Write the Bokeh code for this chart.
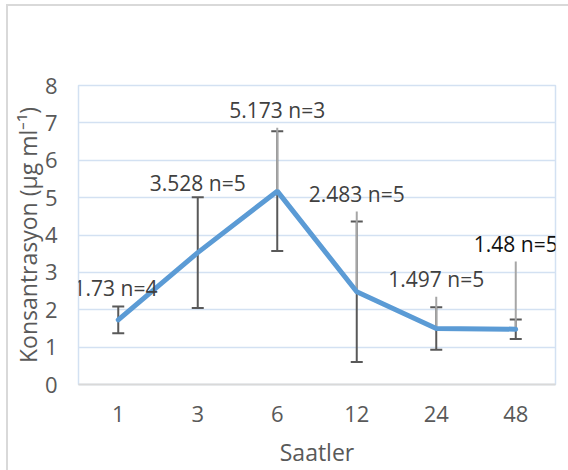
from bokeh.plotting import figure
from bokeh.models import ColumnDataSource, Whisker, TeeHead, FixedTicker, LabelSet
from bokeh.core.properties import value
from bokeh.embed import file_html
from bokeh.resources import INLINE

# ---- data ----
hours = ["1", "3", "6", "12", "24", "48"]
conc = [1.73, 3.528, 5.173, 2.483, 1.497, 1.48]
n_obs = [4, 5, 3, 5, 5, 5]
err = [0.36, 1.48, 1.6, 1.88, 0.57, 0.26]
labels = ["1.73  n=4", "3.528 n=5", "5.173 n=3", "2.483 n=5", "1.497 n=5", "1.48 n=5"]

# ---- label layout (data units) ----
label_y = [2.57, 5.40, 7.35, 5.11, 2.83, 3.77]
has_leader = [False, False, True, True, True, True]
label_colors = ["#404040", "#404040", "#404040", "#404040", "#404040", "#111111"]

FONT = "Open Sans"

src = ColumnDataSource(dict(
    x=hours, y=conc,
    upper=[c + e for c, e in zip(conc, err)],
    lower=[c - e for c, e in zip(conc, err)],
    ly=label_y, lab=labels, lc=label_colors,
))
lead = ColumnDataSource(dict(
    x=[h for h, f in zip(hours, has_leader) if f],
    y0=[ly - 0.48 for ly, f in zip(label_y, has_leader) if f],
    y1=[c for c, f in zip(conc, has_leader) if f],
))

p = figure(x_range=hours, y_range=(0, 8), width=568, height=470,
           output_backend="svg", toolbar_location=None,
           min_border_left=78, min_border_right=13, min_border_top=85, min_border_bottom=86)
p.background_fill_color = "white"
p.border_fill_color = None
# outer chart border (left/top edge) drawn as inset shadows on the host element
p.styles = {"box-shadow": "inset 6px 4px 0 0 #ffffff, inset 8px 6px 0 0 #d9d9d9",
            "background-color": "#ffffff"}
p.outline_line_color = "#d3e1f2"
p.outline_line_width = 1.5

# grid
p.xgrid.grid_line_color = None
p.ygrid.grid_line_color = "#d3e1f2"
p.ygrid.grid_line_width = 1.5
p.yaxis.ticker = FixedTicker(ticks=list(range(0, 9)))

# axes
for ax in (p.xaxis[0], p.yaxis[0]):
    ax.major_tick_line_color = None
    ax.minor_tick_line_color = None
    ax.major_tick_out = 0
    ax.major_tick_in = 0
    ax.major_label_text_font = FONT
    ax.major_label_text_font_size = "22px"
    ax.major_label_text_color = "#595959"
    ax.axis_label_text_font = FONT
    ax.axis_label_text_font_size = "23px"
    ax.axis_label_text_font_style = "normal"
    ax.axis_label_text_color = "#595959"

p.yaxis.axis_line_color = None
p.yaxis.major_label_standoff = 21
p.yaxis.axis_label = "Konsantrasyon (µg ml⁻¹)"
p.yaxis.axis_label_standoff = -2

p.xaxis.axis_line_color = "#d9d9d9"
p.xaxis.axis_line_width = 2
p.xaxis.major_label_standoff = 21
p.xaxis.axis_label = "Saatler"
p.xaxis.axis_label_standoff = 11

# error bars
wh = Whisker(base="x", upper="upper", lower="lower", source=src,
             line_color="#595959", line_width=2,
             upper_head=TeeHead(size=12, line_color="#595959", line_width=2),
             lower_head=TeeHead(size=12, line_color="#595959", line_width=2))
p.add_layout(wh)

# leader lines
p.segment(x0="x", y0="y0", x1="x", y1="y1", source=lead,
          line_color="#a6a6a6", line_width=2)

# main line
p.line("x", "y", source=src, line_color="#5b9bd5", line_width=5, line_cap="round")

# data labels
p.add_layout(LabelSet(x="x", y="ly", text="lab", source=src, text_color="lc",
                      text_font=value(FONT), text_font_size="21px",
                      text_align="center", text_baseline="middle"))

open("out.html", "w").write(file_html(p, INLINE))
